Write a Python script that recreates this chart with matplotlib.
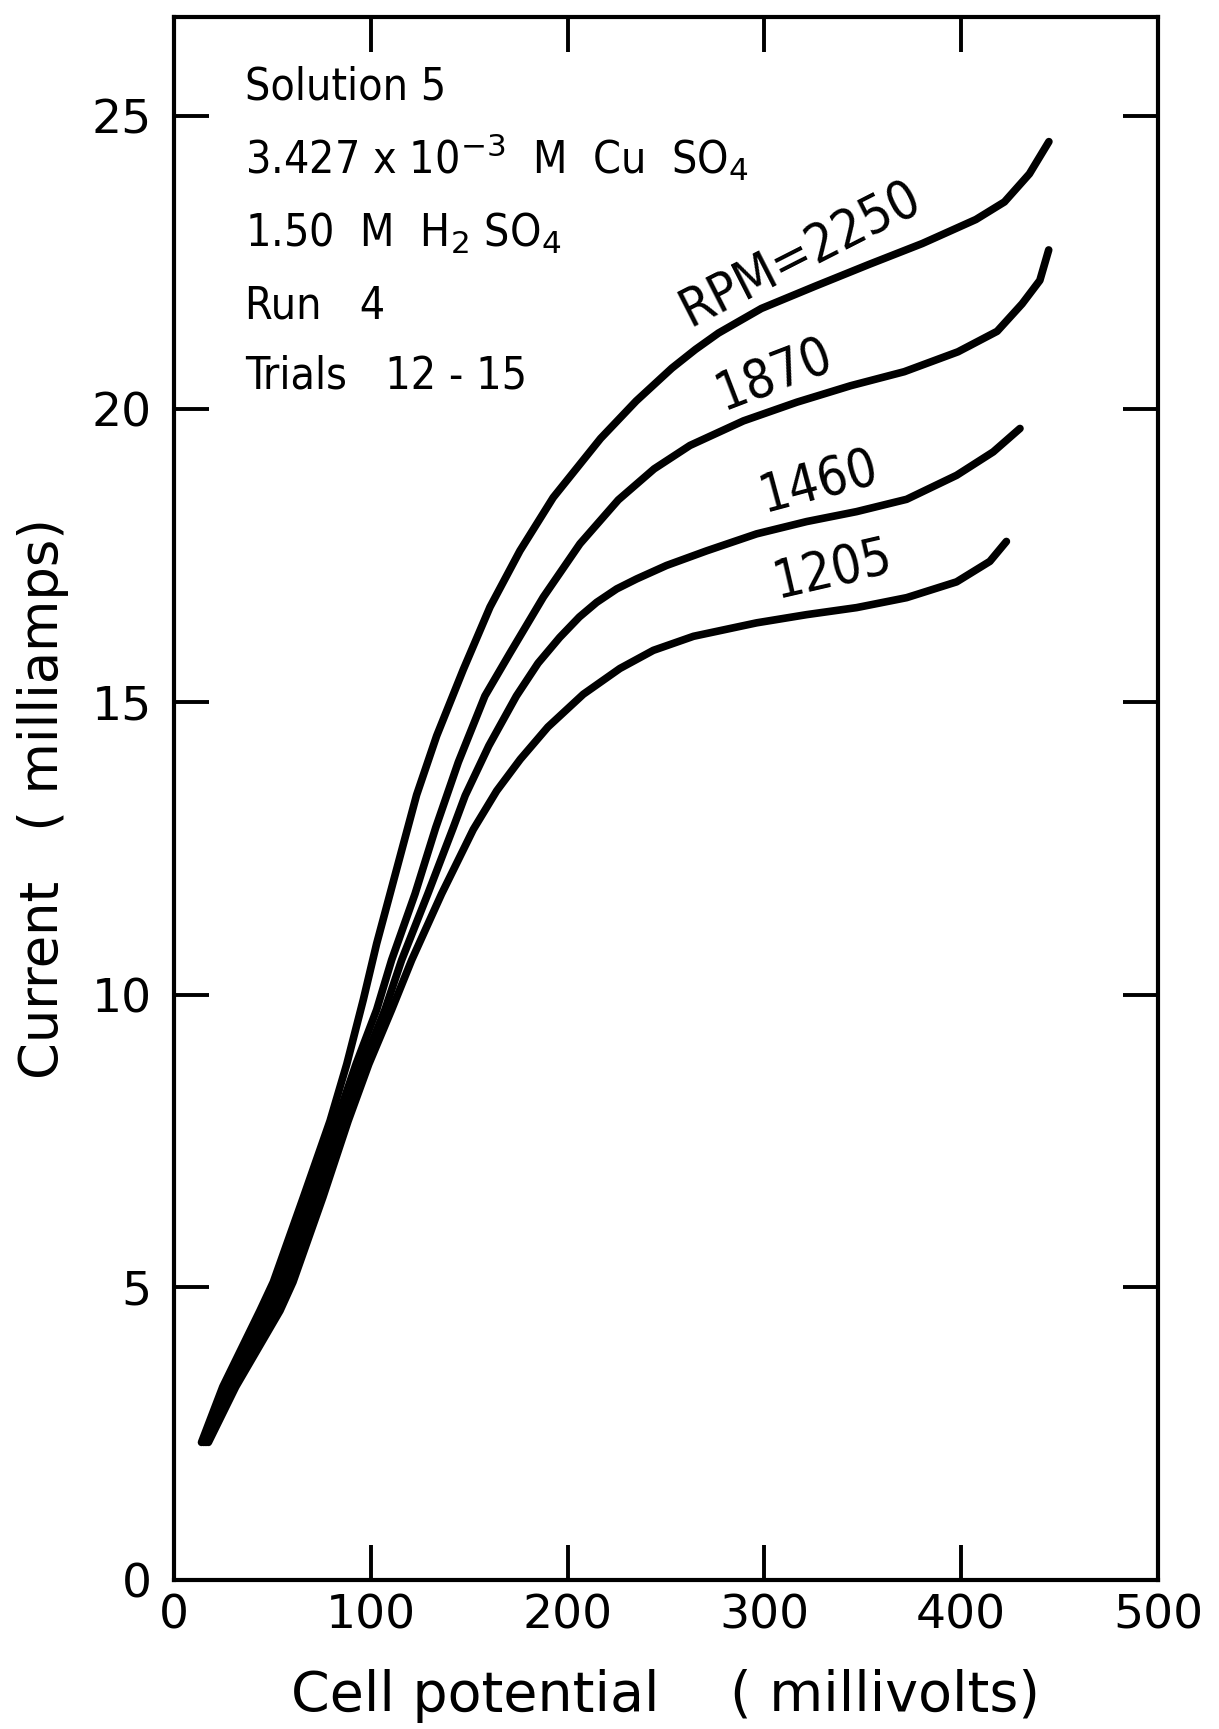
import matplotlib
matplotlib.use("Agg")
import matplotlib.pyplot as plt

# Cell potential (mV) vs current (mA)
v_2250 = [14.0, 24.8, 43.7, 50.5, 65.8, 79.3, 87.8, 96.2, 103.0, 109.8, 116.5, 123.3, 133.5,
          147.0, 160.6, 175.8, 192.7, 216.8, 234.9, 253.0, 265.0, 276.7, 298.5, 325.8, 353.0,
          380.3, 407.5, 422.0, 434.7, 444.6]
i_2250 = [2.35, 3.30, 4.60, 5.09, 6.54, 7.84, 8.81, 9.91, 10.87, 11.72, 12.56, 13.41, 14.42,
          15.55, 16.62, 17.58, 18.49, 19.50, 20.14, 20.70, 21.02, 21.30, 21.72, 22.10, 22.47,
          22.83, 23.24, 23.54, 24.02, 24.57]

v_1870 = [15.2, 27.0, 47.1, 53.8, 69.1, 82.6, 92.5, 103.0, 110.6, 122.5, 133.0, 144.5, 158.0,
          170.7, 187.7, 206.3, 225.8, 244.0, 262.2, 289.4, 316.6, 343.8, 371.1,
          398.4, 418.3, 431.0, 440.0, 444.5]
i_1870 = [2.35, 3.30, 4.60, 5.09, 6.54, 7.84, 8.81, 9.74, 10.59, 11.72, 12.85, 13.97, 15.10,
          15.83, 16.79, 17.70, 18.45, 18.98, 19.38, 19.80, 20.12, 20.40, 20.64,
          20.98, 21.33, 21.80, 22.20, 22.72]

v_1460 = [16.3, 29.2, 50.5, 57.2, 72.4, 85.5, 96.0, 107.2, 115.7, 129.0, 141.9, 148.0, 160.0,
          174.0, 185.0, 196.0, 206.0, 214.8, 225.0, 235.1, 250.3, 270.7, 296.1, 321.5,
          346.9, 372.3, 397.7, 416.3, 429.9]
i_1460 = [2.35, 3.30, 4.60, 5.09, 6.54, 7.84, 8.81, 9.74, 10.59, 11.72, 12.85, 13.40, 14.25,
          15.10, 15.66, 16.10, 16.45, 16.70, 16.93, 17.10, 17.33, 17.58, 17.87, 18.08,
          18.25, 18.46, 18.87, 19.27, 19.67]

v_1205 = [17.5, 31.4, 53.9, 60.5, 75.7, 88.5, 99.0, 110.6, 120.8, 136.0, 152.1, 164.0, 176.0,
          190.0, 208.0, 226.6, 243.6, 264.0, 296.1, 321.5, 346.9, 372.3, 397.7, 414.6, 423.0]
i_1205 = [2.35, 3.30, 4.60, 5.09, 6.54, 7.84, 8.81, 9.74, 10.59, 11.72, 12.82, 13.48, 14.02,
          14.57, 15.13, 15.57, 15.88, 16.12, 16.35, 16.49, 16.61, 16.78, 17.05, 17.40, 17.74]

curve_labels = ["RPM=2250", "1870", "1460", "1205"]
label_pos = [(318, 22.65), (305, 20.6), (328, 18.75), (335, 17.25)]
label_rot = [27, 21, 15, 13]

notes = ["Solution 5",
         r"3.427 x 10$^{-3}$  M  Cu  SO$_4$",
         r"1.50  M  H$_2$ SO$_4$",
         "Run   4",
         "Trials   12 - 15"]
note_y = [25.5, 24.3, 23.0, 21.77, 20.56]

xticks = [0, 100, 200, 300, 400, 500]
yticks = [0, 5, 10, 15, 20, 25]

fig = plt.figure(figsize=(12.19, 17.29), dpi=100)
ax = fig.add_axes([0.1427, 0.0862, 0.8072, 0.904])

for v, i in [(v_2250, i_2250), (v_1870, i_1870), (v_1460, i_1460), (v_1205, i_1205)]:
    ax.plot(v, i, color="black", lw=5.5, solid_capstyle="round", solid_joinstyle="round")

for txt, (x, y), rot in zip(curve_labels, label_pos, label_rot):
    ax.text(x, y, txt, fontsize=38, rotation=rot, rotation_mode="anchor",
            ha="center", va="center", fontstretch="condensed")

for txt, y in zip(notes, note_y):
    ax.text(36, y, txt, fontsize=32, ha="left", va="center", fontstretch="condensed")

ax.set_xlim(0, 500)
ax.set_ylim(0, 26.7)
ax.set_xticks(xticks)
ax.set_yticks(yticks)
ax.tick_params(direction="in", length=25, width=2.8, top=True, right=True,
               labelsize=34)
ax.tick_params(axis="y", pad=16)
ax.tick_params(axis="x", pad=10)
for s in ax.spines.values():
    s.set_linewidth(3)

ax.set_xlabel("Cell potential    ( millivolts)", fontsize=40, labelpad=22)
ax.set_ylabel("Current   ( milliamps)", fontsize=38, labelpad=16)

fig.savefig("out.png", dpi=100, facecolor="white")
